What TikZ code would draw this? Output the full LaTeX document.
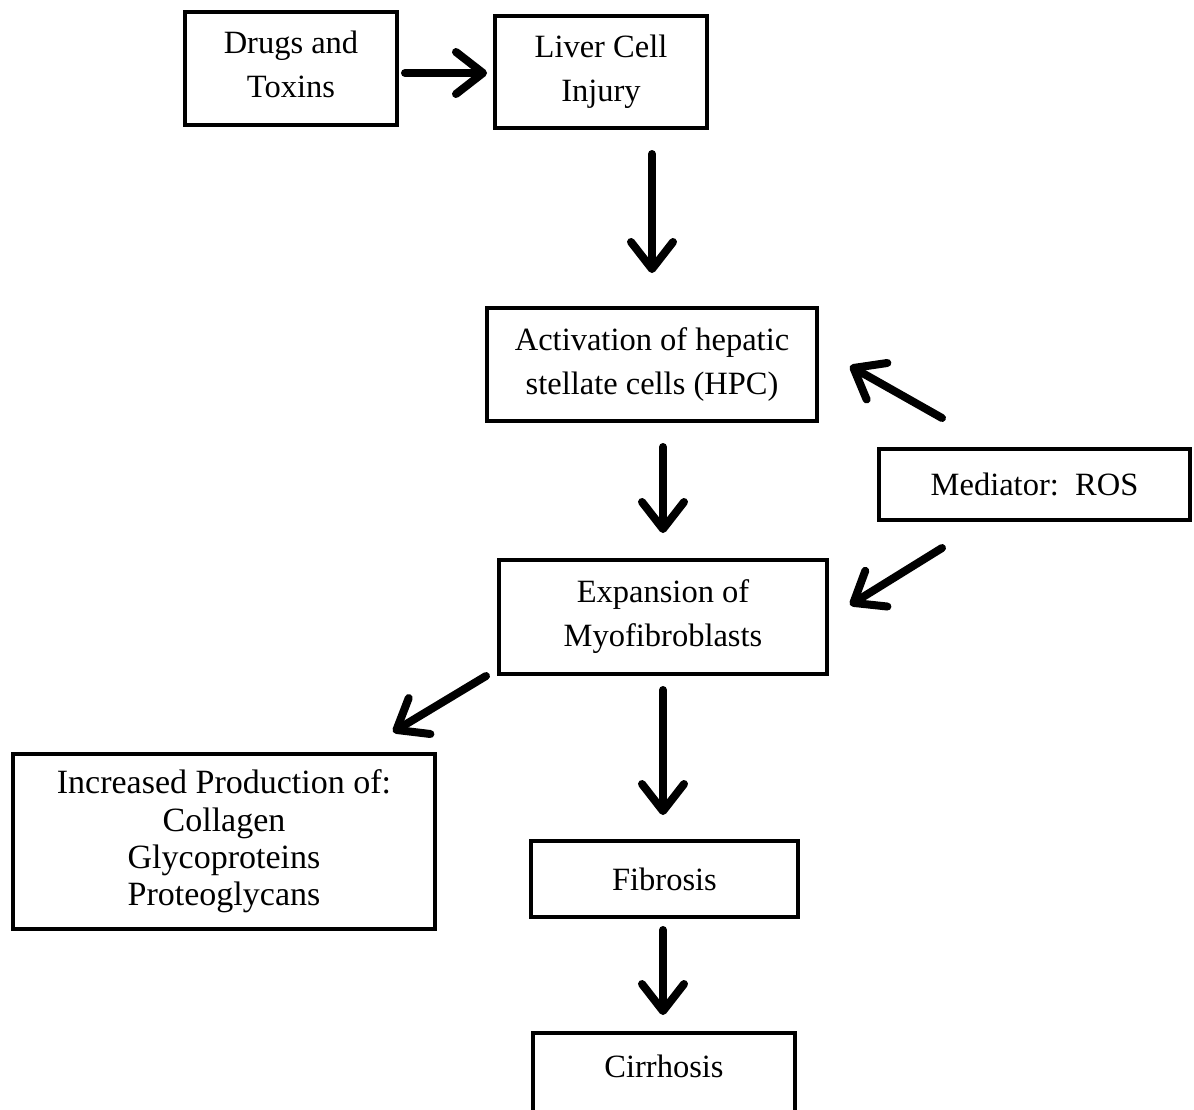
\documentclass[tikz,border=0pt]{standalone}
\usepackage{fontspec}
\setmainfont{Liberation Serif}
\usetikzlibrary{arrows.meta}
\tikzset{
  box/.style={draw=black, line width=4pt, inner sep=0pt, align=center,
    font=\fontsize{32.5}{44}\selectfont},
  flow/.style={line width=8pt, line cap=round,
    -{Straight Barb[length=27pt,width=42pt,line cap=round,line join=round]}},
}
\begin{document}
\begin{tikzpicture}[x=1pt,y=-1pt]
\useasboundingbox (0,0) rectangle (1194,1109);
\node[box, minimum width=212pt, minimum height=113pt] (drugs) at (291,68.5) {};
\node[font=\fontsize{32.5}{44}\selectfont, align=center, inner sep=0pt] (drugst) at (291,64.5) {Drugs and\\Toxins};
\node[box, minimum width=212pt, minimum height=112pt] (liver) at (601,72) {Liver Cell\\Injury};
\node[box, minimum width=330pt, minimum height=113pt] (act) at (652,364.5) {Activation of hepatic\\stellate cells (HPC)};
\node[box, minimum width=311pt, minimum height=71pt] (ros) at (1034.5,484.5) {Mediator:\ \ ROS};
\node[box, minimum width=328pt, minimum height=114pt] (exp) at (663,617) {Expansion of\\Myofibroblasts};
\node[box, minimum width=422pt, minimum height=175pt, font=\fontsize{34}{37.3}\selectfont] (inc) at (224,841.5) {Increased Production of:\\Collagen\\Glycoproteins\\Proteoglycans};
\node[box, minimum width=267pt, minimum height=76pt] (fib) at (664.5,879) {Fibrosis};
\node[box, minimum width=262pt, minimum height=80pt] (cir) at (664,1073) {};
\node[font=\fontsize{32.5}{44}\selectfont, inner sep=0pt] (cirt) at (664,1066) {Cirrhosis};
% connector end points
\coordinate (a1s) at (405,73);  \coordinate (a1e) at (487,73);
\coordinate (a2s) at (652,154); \coordinate (a2e) at (652,273);
\coordinate (a3s) at (663,447); \coordinate (a3e) at (663,533);
\coordinate (a4s) at (942,418); \coordinate (a4e) at (850,366);
\coordinate (a5s) at (942,548); \coordinate (a5e) at (850,605);
\coordinate (a6s) at (486,676); \coordinate (a6e) at (393,732);
\coordinate (a7s) at (663,690); \coordinate (a7e) at (663,815);
\coordinate (a8s) at (663,930); \coordinate (a8e) at (663,1015);
\draw[flow] (a1s) -- (a1e);
\draw[flow] (a2s) -- (a2e);
\draw[flow] (a3s) -- (a3e);
\draw[flow] (a4s) -- (a4e);
\draw[flow] (a5s) -- (a5e);
\draw[flow] (a6s) -- (a6e);
\draw[flow] (a7s) -- (a7e);
\draw[flow] (a8s) -- (a8e);
\end{tikzpicture}
\end{document}
